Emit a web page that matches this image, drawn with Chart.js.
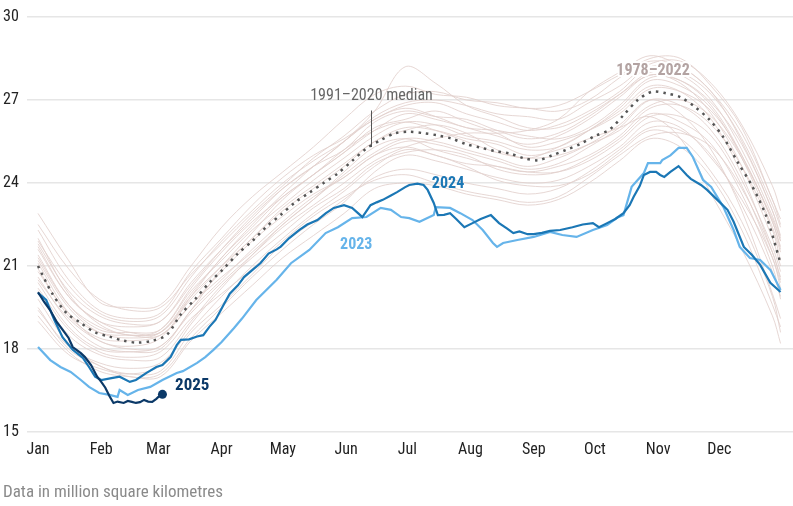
<!DOCTYPE html>
<html><head><meta charset="utf-8">
<script src="https://cdn.jsdelivr.net/npm/chart.js@4"></script>
<style>html,body{margin:0;padding:0;background:#fff;overflow:hidden}canvas{display:block}</style>
</head><body>
<canvas id="c" width="793" height="506"></canvas>
<script>
// ---------- data ----------
const monthLabels = ['Jan','Feb','Mar','Apr','May','Jun','Jul','Aug','Sep','Oct','Nov','Dec'];
const monthStartDays = [0,31,59,90,120,151,181,212,243,273,304,334];
const yTickValues = [15,18,21,24,27,30];

// 1991–2020 median (weekly)
const medianDays = [0,7,14,21,28,35,42,49,56,63,70,77,84,91,98,105,112,119,126,133,140,147,154,161,168,175,182,189,196,203,210,217,224,231,238,245,252,259,266,273,280,287,294,301,308,315,322,329,336,343,350,357,364];
const medianExtent = [21.0,20.0,19.3,18.94,18.6,18.45,18.3,18.23,18.3,18.5,19.25,19.8,20.4,20.9,21.45,21.9,22.42,22.85,23.3,23.65,24.0,24.35,24.8,25.25,25.55,25.8,25.85,25.8,25.72,25.6,25.4,25.28,25.15,25.07,24.9,24.82,25.0,25.2,25.42,25.7,25.92,26.45,27.0,27.3,27.24,27.1,26.75,26.3,25.65,24.75,23.9,22.8,21.1];

// 2023
const days2023 = [0,6,11,16,21,25,30,35,39,40,44,49,55,61,68,71,78,82,86,90,96,100,107,117,124,133,141,147,154,161,168,173,178,182,187,194,195,202,207,213,218,223,225,228,235,243,251,257,264,272,279,284,287,291,297,299,305,306,310,314,318,321,326,330,336,341,344,349,354,359,364];
const extent2023 = [18.07,17.6,17.35,17.17,16.88,16.63,16.41,16.34,16.27,16.52,16.34,16.52,16.63,16.88,17.13,17.2,17.5,17.71,17.97,18.25,18.75,19.1,19.77,20.5,21.1,21.58,22.19,22.4,22.73,22.77,23.1,23.03,22.77,22.73,22.6,22.84,23.13,23.1,22.91,22.66,22.3,21.83,21.69,21.83,21.94,22.05,22.23,22.12,22.05,22.3,22.48,22.75,22.84,23.86,24.36,24.72,24.72,24.83,25.0,25.27,25.27,24.94,24.11,23.86,23.13,22.3,21.69,21.29,21.22,20.86,20.13];

// 2024
const days2024 = [0,4,8,12,17,22,25,28,31,36,40,45,48,53,58,61,65,68,70,74,78,81,84,87,91,94,98,101,105,109,113,117,119,123,128,132,137,141,145,150,154,157,159,163,166,169,173,176,180,182,186,189,191,194,196,199,202,205,209,213,217,222,226,230,233,236,240,243,247,251,256,262,267,272,275,279,283,287,290,292,295,297,300,303,305,307,310,314,318,320,325,328,333,338,341,346,350,354,359,364];
const extent2024 = [20.03,19.77,19.05,18.43,17.97,17.68,17.35,17.0,16.88,16.95,17.0,16.81,16.88,17.13,17.35,17.42,17.71,18.14,18.33,18.35,18.45,18.5,18.8,19.05,19.6,20.0,20.3,20.6,20.85,21.1,21.45,21.6,21.7,22.0,22.3,22.5,22.66,22.9,23.1,23.2,23.1,22.9,22.77,23.2,23.3,23.39,23.55,23.67,23.85,23.93,23.98,23.93,23.75,23.28,22.84,22.85,22.91,22.7,22.4,22.55,22.7,22.84,22.55,22.35,22.19,22.25,22.15,22.15,22.2,22.27,22.3,22.4,22.5,22.55,22.4,22.55,22.7,22.91,23.2,23.5,23.9,24.29,24.4,24.4,24.29,24.22,24.4,24.61,24.29,24.15,23.93,23.75,23.39,23.03,22.6,21.69,21.4,21.04,20.39,20.06];

// 2025 (to early March)
const days2025 = [0,3,6,9,12,15,17,21,23,26,29,31,33,35,37,39,42,44,46,48,50,52,54,56,58,59,61];
const extent2025 = [20.05,19.7,19.4,19.0,18.7,18.4,18.07,17.85,17.71,17.42,17.0,16.81,16.6,16.3,16.05,16.1,16.05,16.12,16.09,16.05,16.08,16.16,16.1,16.09,16.2,16.27,16.36];

// 1978–2022 individual years (half-monthly readings)
const pastDays = [0,15,30,45,60,75,90,105,120,135,150,165,180,195,210,225,240,255,270,285,300,315,330,345,360,364];
const pastA = [22.9,21.2,19.7,19.5,19.6,21.0,22.4,23.5,24.4,25.3,26.3,27.2,27.5,27.2,27.1,26.8,26.7,26.6,27.0,27.8,28.5,28.5,27.5,26.0,23.4,22.7];
const pastB = [22.3,20.5,19.4,19.1,19.3,20.8,22.0,23.2,24.2,25.0,25.6,26.3,26.8,26.9,26.5,26.2,25.9,26.1,26.6,27.3,28.2,28.0,27.2,25.6,23.2,22.4];
const pastC = [21.8,20.1,19.2,18.9,19.0,20.4,21.6,22.7,23.8,24.6,25.2,26.2,26.6,26.4,26.3,25.9,25.6,25.8,26.4,27.2,28.0,27.9,27.0,25.2,22.8,21.9];
const pastD = [21.4,19.6,18.7,18.6,18.7,20.1,21.2,22.3,23.2,24.1,24.9,25.7,26.2,26.1,25.7,25.5,25.2,25.3,25.9,26.7,27.7,27.5,26.7,24.9,22.4,21.5];
const pastE = [20.6,19.0,18.1,17.9,18.0,19.4,20.5,21.6,22.6,23.5,24.2,25.0,25.5,25.4,25.1,24.8,24.5,24.7,25.3,26.0,27.0,26.8,25.9,24.1,21.7,20.8];
const pastF = [19.8,18.2,17.4,17.1,17.2,18.6,19.6,20.7,21.8,22.6,23.4,24.2,24.5,24.3,24.0,23.8,23.6,23.8,24.4,25.2,26.0,25.9,25.0,23.2,20.8,19.9];
const pastG = [19.2,17.9,17.2,17.0,17.0,18.3,19.3,20.3,21.3,22.1,22.9,23.8,24.0,23.9,23.6,23.4,23.2,23.4,24.0,24.8,25.6,25.3,24.2,22.3,19.6,18.8];
const pastH = [19.0,17.8,17.3,17.1,17.4,18.9,20.2,21.4,22.5,23.4,24.3,25.1,25.6,25.5,25.2,24.9,24.6,24.9,25.4,26.1,27.0,26.5,25.2,23.0,20.0,19.1];
const pastI = [21.2,19.5,18.6,18.4,18.6,20.0,21.3,22.5,23.6,24.6,25.5,26.6,28.2,27.6,26.8,26.4,26.0,26.0,26.5,27.2,27.9,27.7,26.8,25.0,22.6,21.6];
const pastJ = [20.4,18.8,18.0,17.9,18.1,19.3,20.4,21.4,22.4,23.2,24.0,24.8,25.3,25.6,25.8,25.8,25.9,26.3,27.3,28.0,28.6,28.2,27.3,25.5,23.0,22.0];
const pastK = [21.6,19.9,19.0,18.6,18.6,19.9,21.0,22.0,23.1,23.9,24.7,25.5,26.0,25.9,25.6,25.4,25.0,25.2,25.6,26.0,26.4,25.6,23.6,21.6,19.2,18.2];
const pastL = [20.2,18.7,17.9,17.7,17.9,19.1,20.0,20.9,21.9,22.8,23.5,24.1,24.3,24.0,23.7,23.5,23.3,23.5,24.2,25.0,25.7,25.8,25.3,23.8,21.5,20.5];
const pastM = [22.0,20.0,18.9,18.5,18.7,20.2,21.5,22.6,23.5,24.3,25.1,26.0,26.3,26.6,26.2,25.8,25.3,25.5,25.9,26.5,27.4,27.3,26.6,25.0,22.6,21.7];
const pastN = [20.9,19.2,18.4,18.3,18.5,19.6,20.6,21.5,22.5,23.4,24.4,25.3,25.6,25.2,24.9,24.6,24.4,24.6,25.0,25.7,26.7,26.8,26.1,24.6,22.3,21.2];
const pastO = [21.9,20.3,19.3,19.0,19.2,20.6,21.9,23.0,24.0,24.8,25.5,26.4,26.9,27.0,26.8,26.5,26.4,26.3,26.9,27.5,28.3,28.4,27.6,26.1,23.9,23.0];
const pastP = [19.5,18.0,17.4,17.0,17.1,18.4,19.5,20.6,21.6,22.5,23.3,24.4,25.0,24.8,24.5,24.2,24.0,24.1,24.6,25.3,26.2,26.0,24.9,23.4,21.3,20.2];
const pastQ = [20.8,19.3,18.6,18.5,18.6,19.8,21.0,22.2,23.4,24.3,25.1,25.9,26.5,26.3,26.0,25.7,25.4,25.7,26.3,27.1,27.9,27.6,26.5,24.6,22.0,21.0];
const pastR = [21.3,19.6,18.8,18.5,18.5,19.6,20.8,21.9,22.8,23.6,24.2,25.0,25.3,25.0,24.7,24.6,24.4,24.4,24.8,25.5,26.4,26.4,25.7,23.9,21.3,20.4];
const pastS = [22.5,20.9,19.8,19.4,19.5,20.7,21.8,22.9,23.9,24.9,25.7,26.6,27.2,27.3,27.0,26.9,26.7,26.8,27.3,27.9,28.4,28.2,27.3,25.8,23.4,22.5];
const pastT = [20.1,18.5,17.8,17.6,17.7,19.0,20.3,21.3,22.2,23.1,23.8,24.7,25.1,25.2,25.0,24.5,24.3,24.4,24.9,25.6,26.5,26.2,25.4,23.6,21.0,19.8];
const pastU = [21.1,19.3,18.3,18.1,18.4,19.9,21.3,22.4,23.5,24.3,25.2,25.9,26.2,25.9,25.5,25.1,24.9,25.0,25.4,25.9,26.8,27.0,26.4,24.9,22.7,21.9];
const pastV = [19.4,18.1,17.5,17.3,17.5,18.7,19.9,21.0,22.0,22.9,23.7,24.6,25.2,25.0,24.6,24.1,23.9,23.9,24.3,25.1,25.9,25.6,24.4,22.6,19.9,18.6];
const pastW = [21.7,19.9,19.0,18.8,19.0,20.3,21.6,22.8,23.8,24.6,25.5,26.3,26.7,26.4,26.0,25.9,25.7,25.6,26.0,26.8,27.8,27.7,26.9,25.4,23.0,22.1];
const pastX = [20.5,19.1,18.3,18.0,18.1,19.4,20.9,22.0,23.0,23.8,24.6,25.5,25.9,26.1,25.8,25.2,24.9,25.3,25.9,26.6,27.5,27.3,26.3,24.3,21.5,20.6];

// ---------- chart ----------
const FONT = "'Roboto Condensed','Liberation Sans Narrow',Roboto,sans-serif";
const toXY = (days, vals) => days.map((d, i) => ({x: d, y: vals[i]}));

const pastLines = [pastA,pastB,pastC,pastD,pastE,pastF,pastG,pastH,pastI,pastJ,pastK,pastL,pastM,pastN,pastO,pastP,pastQ,pastR,pastS,pastT,pastU,pastV,pastW,pastX];

const datasets = pastLines.map((vals) => ({
  data: toXY(pastDays, vals),
  borderColor: 'rgba(226,208,204,0.85)',
  borderWidth: 1,
  pointRadius: 0,
  tension: 0.35,
  order: 10
}));

datasets.push({
  label: '1991–2020 median',
  data: toXY(medianDays, medianExtent),
  borderColor: '#555555',
  borderWidth: 2.5,
  borderDash: [2.5, 5],
  pointRadius: 0,
  tension: 0.3,
  order: 3
});
datasets.push({
  label: '2023',
  data: toXY(days2023, extent2023),
  borderColor: '#66b4ea',
  borderWidth: 2.2,
  pointRadius: 0,
  tension: 0,
  order: 2
});
datasets.push({
  label: '2024',
  data: toXY(days2024, extent2024),
  borderColor: '#1b77b5',
  borderWidth: 2.2,
  pointRadius: 0,
  tension: 0,
  order: 1
});
datasets.push({
  label: '2025',
  data: toXY(days2025, extent2025),
  borderColor: '#0b3968',
  backgroundColor: '#0b3968',
  borderWidth: 2.2,
  pointRadius: (c) => c.dataIndex === days2025.length - 1 ? 4.5 : 0,
  pointBorderWidth: 0,
  tension: 0,
  order: 0
});

const labelPlugin = {
  id: 'annotations',
  afterDatasetsDraw(chart) {
    const {ctx, scales: {x, y}} = chart;
    ctx.save();
    // median callout
    const lx = Math.round(x.getPixelForValue(163)) + 0.5;
    ctx.strokeStyle = '#555';
    ctx.lineWidth = 1;
    ctx.beginPath();
    ctx.moveTo(lx, y.getPixelForValue(26.62));
    ctx.lineTo(lx, y.getPixelForValue(25.3));
    ctx.stroke();
    ctx.textBaseline = 'middle';
    ctx.textAlign = 'center';
    ctx.font = '16px ' + FONT;
    ctx.fillStyle = '#666666';
    ctx.fillText('1991–2020 median', lx, y.getPixelForValue(27.15));

    // 1978–2022 label with halo
    ctx.font = 'bold 16px ' + FONT;
    ctx.lineWidth = 4;
    ctx.strokeStyle = '#ffffff';
    ctx.lineJoin = 'round';
    const px = x.getPixelForValue(301.5), py = y.getPixelForValue(28.05);
    ctx.strokeText('1978–2022', px, py);
    ctx.fillStyle = '#b3a3a2';
    ctx.fillText('1978–2022', px, py);

    ctx.fillStyle = '#1b77b5';
    ctx.fillText('2024', x.getPixelForValue(201), y.getPixelForValue(23.96));
    ctx.fillStyle = '#66b4ea';
    ctx.fillText('2023', x.getPixelForValue(156), y.getPixelForValue(21.76));
    ctx.font = 'bold 17px ' + FONT;
    ctx.fillStyle = '#0b3968';
    ctx.textAlign = 'left';
    ctx.fillText('2025', x.getPixelForValue(67.2), y.getPixelForValue(16.66));

    // footer
    ctx.font = '17px ' + FONT;
    ctx.fillStyle = '#8a8a8a';
    ctx.textAlign = 'left';
    ctx.fillText('Data in million square kilometres', 3, 493);
    ctx.restore();
  }
};

new Chart(document.getElementById('c'), {
  type: 'line',
  data: {datasets},
  options: {
    responsive: false,
    animation: false,
    devicePixelRatio: 1,
    layout: {autoPadding: false, padding: {top: 17, left: 3, right: 0, bottom: 44}},
    plugins: {legend: {display: false}, tooltip: {enabled: false}},
    scales: {
      x: {
        type: 'linear',
        min: -5.4,
        max: 370.1,
        grid: {display: false, drawTicks: false},
        border: {display: false},
        afterBuildTicks: (axis) => { axis.ticks = monthStartDays.map(v => ({value: v})); },
        afterFit: (axis) => { axis.height = 30; },
        ticks: {
          autoSkip: false,
          maxRotation: 0,
          padding: 8,
          color: '#222',
          font: {family: FONT, size: 16},
          callback: (v) => monthLabels[monthStartDays.indexOf(v)]
        }
      },
      y: {
        min: 15,
        max: 30,
        afterBuildTicks: (axis) => { axis.ticks = yTickValues.map(v => ({value: v})); },
        afterFit: (axis) => { axis.width = 24; },
        grid: {color: '#e6e6e6', lineWidth: 1.5, drawTicks: false},
        border: {display: false},
        ticks: {
          crossAlign: 'far',
          padding: 4,
          color: '#222',
          font: {family: FONT, size: 16}
        }
      }
    }
  },
  plugins: [labelPlugin]
});
</script>
</body></html>
